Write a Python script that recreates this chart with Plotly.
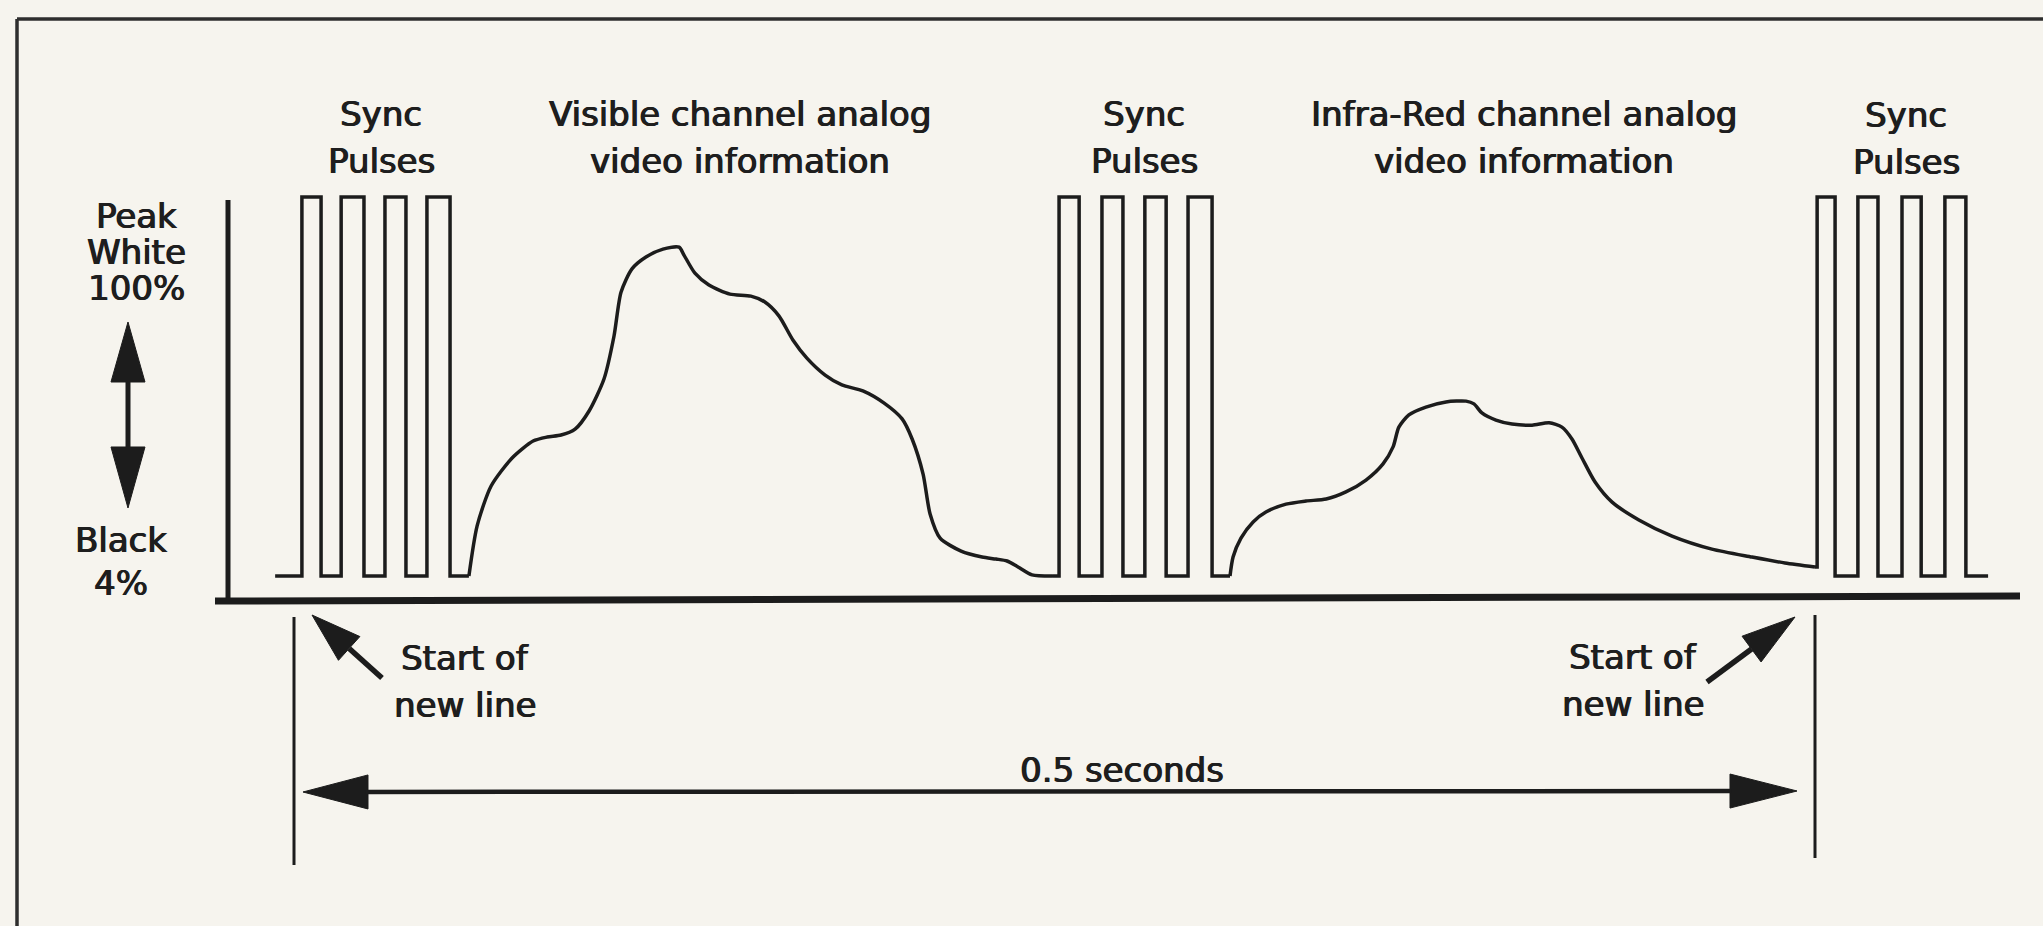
import math
import plotly.graph_objects as go

W, H = 2043, 926

# ---------------- data: time in ms from start of line, level in % ----------------
black_level = 4
white_level = 100

sync1_start_ms = -6.2
sync1_rise_ms = [2.6, 15.5, 29.9, 43.7]
sync1_fall_ms = [8.9, 23.0, 36.8, 51.3]
sync1_end_ms = 57.5

sync2_start_ms = 249.5
sync2_rise_ms = [251.5, 265.6, 279.7, 293.9]
sync2_fall_ms = [258.1, 272.5, 286.7, 301.8]
sync2_end_ms = 307.7

sync3_start_ms = 500.0
sync3_rise_ms = [500.7, 514.1, 528.6, 542.7]
sync3_fall_ms = [506.6, 520.7, 534.9, 549.6]
sync3_end_ms = 556.9

visible_ms = [57.5, 60.2, 64.8, 71.7, 78.6, 83.2, 87.8, 92.4, 97.0, 101.9, 105.2,
              107.5, 111.1, 115.7, 121.3, 126.6, 128.2, 131.8, 136.4, 143.3, 150.2,
              154.8, 159.4, 164.0, 168.6, 174.6, 180.1, 187.0, 194.0, 199.9, 203.2,
              206.8, 209.1, 212.4, 219.3, 226.2, 230.8, 234.4, 238.0, 242.6, 249.5]
visible_level = [4.0, 16.7, 26.8, 33.9, 38.2, 39.2, 39.7, 41.2, 45.8, 53.9, 64.8,
                 75.9, 81.8, 84.8, 86.8, 87.3, 85.3, 80.7, 77.7, 75.4, 74.9,
                 73.4, 69.9, 63.8, 59.2, 54.9, 52.4, 50.9, 47.8, 43.8, 38.7,
                 29.8, 19.7, 13.6, 10.3, 8.8, 8.3, 7.8, 6.3, 4.3, 4.0]

ir_ms = [307.7, 308.7, 311.3, 315.3, 319.5, 326.1, 332.7, 339.3, 345.8, 352.4, 358.0,
         361.3, 363.2, 366.5, 372.1, 378.7, 385.3, 387.9, 390.5, 395.1, 400.4, 407.0,
         412.6, 416.8, 420.1, 423.4, 427.7, 433.3, 442.1, 453.0, 466.1, 479.3, 490.1, 500.0]
ir_level = [4.0, 8.8, 13.6, 17.7, 20.2, 22.2, 23.0, 23.5, 25.3, 28.3, 32.4,
            36.7, 41.7, 44.8, 46.8, 48.1, 48.3, 47.6, 45.3, 43.5, 42.5, 42.2,
            42.8, 41.7, 38.7, 33.9, 27.8, 22.7, 18.2, 14.1, 10.8, 8.8, 7.3, 6.3]

# ---------------- scales (pixel mapping of the drawing) ----------------
T0_PX, PX_PER_MS = 294.0, 3.042
L0_PY, PY_PER_PCT = 591.8, 3.948
x_range = [(0 - T0_PX) / PX_PER_MS, (W - T0_PX) / PX_PER_MS]
y_range = [(L0_PY - H) / PY_PER_PCT, L0_PY / PY_PER_PCT]

INK = "#1c1c1c"
TXT = "#1e1e1e"
BG = "#f6f4ee"
FONT = "DejaVu Sans"
FS = 34
TEXT_SHADOW = "0.7px 0 0 #1e1e1e, -0.5px 0 0 #1e1e1e"


def pulse_path(start, rises, falls, end, start_level=black_level):
    xs, ys = [start], [start_level]
    lvl = start_level
    for r, f in zip(rises, falls):
        xs += [r, r, f, f]
        ys += [lvl, white_level, white_level, black_level]
        lvl = black_level
    xs.append(end)
    ys.append(black_level)
    return xs, ys


fig = go.Figure()
line_style = dict(color=INK, width=3.5)

for s, r, f, e, lv in [
    (sync1_start_ms, sync1_rise_ms, sync1_fall_ms, sync1_end_ms, black_level),
    (sync2_start_ms, sync2_rise_ms, sync2_fall_ms, sync2_end_ms, black_level),
    (sync3_start_ms, sync3_rise_ms, sync3_fall_ms, sync3_end_ms, ir_level[-1]),
]:
    xs, ys = pulse_path(s, r, f, e, lv)
    fig.add_trace(go.Scatter(x=xs, y=ys, mode="lines", line=line_style,
                             hoverinfo="skip", showlegend=False))

fig.add_trace(go.Scatter(x=visible_ms, y=visible_level, mode="lines",
                         line=dict(color=INK, width=3.5, shape="spline", smoothing=0.7),
                         hoverinfo="skip", showlegend=False))
fig.add_trace(go.Scatter(x=ir_ms, y=ir_level, mode="lines",
                         line=dict(color=INK, width=3.5, shape="spline", smoothing=0.7),
                         hoverinfo="skip", showlegend=False))

# ---------------- decorations (pixel positions -> paper) ----------------
def PX(x):
    return x / W


def PY(y):
    return 1 - y / H


shapes = []


def seg(x0, y0, x1, y1, w, color=INK):
    shapes.append(dict(type="line", xref="paper", yref="paper",
                       x0=PX(x0), y0=PY(y0), x1=PX(x1), y1=PY(y1),
                       line=dict(color=color, width=w)))


def head(tip, toward, length, half_w):
    dx, dy = toward[0] - tip[0], toward[1] - tip[1]
    d = math.hypot(dx, dy)
    ux, uy = dx / d, dy / d
    bx, by = tip[0] + ux * length, tip[1] + uy * length
    nx, ny = -uy, ux
    p1 = (bx + nx * half_w, by + ny * half_w)
    p2 = (bx - nx * half_w, by - ny * half_w)
    path = "M {:.5f},{:.5f} L {:.5f},{:.5f} L {:.5f},{:.5f} Z".format(
        PX(tip[0]), PY(tip[1]), PX(p1[0]), PY(p1[1]), PX(p2[0]), PY(p2[1]))
    shapes.append(dict(type="path", xref="paper", yref="paper", path=path,
                       fillcolor=INK, line=dict(color=INK, width=1)))
    return bx, by


# frame
seg(17, 19, W + 5, 19, 3.5, "#2e2e2e")
seg(17, 19, 17, H + 5, 3.5, "#2e2e2e")
# vertical axis & baseline
seg(228, 200, 228, 600, 5)
seg(215, 601, 2020, 596, 7)
# start-of-line markers
seg(294, 617, 294, 865, 3)
seg(1815, 615, 1815, 858, 3)
# 0.5 s double arrow
bl = head((303, 792), (1797, 791), 65, 17)
br = head((1797, 791), (303, 792), 67, 17)
seg(bl[0] - 2, bl[1], br[0] + 2, br[1], 4.5)
# level double arrow
bt = head((128, 322), (128, 508), 60, 17)
bb = head((128, 508), (128, 322), 61, 17)
seg(128, bt[1] - 2, 128, bb[1] + 2, 5)
# diagonal arrows
b1 = head((312, 615), (382, 678), 50, 16)
seg(b1[0], b1[1], 382, 678, 5.5)
b2 = head((1795, 617), (1707, 682), 54, 16)
seg(b2[0], b2[1], 1707, 682, 5.5)

annotations = []


def label(lines, x, ys):
    for text, y in zip(lines, ys):
        annotations.append(dict(text=text, xref="paper", yref="paper", x=PX(x), y=PY(y),
                                xanchor="center", yanchor="middle", showarrow=False,
                                font=dict(family=FONT, size=FS, color=TXT,
                                          shadow=TEXT_SHADOW),
                                align="center"))


label(["Sync", "Pulses"], 381, [114, 161])
label(["Visible channel analog", "video information"], 740, [114, 161])
label(["Sync", "Pulses"], 1144, [114, 161])
label(["Infra-Red channel analog", "video information"], 1524, [114, 161])
label(["Sync", "Pulses"], 1906, [115, 162])
label(["Peak", "White", "100%"], 136, [216, 252, 288])
label(["Black", "4%"], 121, [540, 583])
label(["Start of", "new line"], 465, [658, 705])
label(["Start of", "new line"], 1633, [657, 704])
label(["0.5 seconds"], 1122, [770])

fig.update_layout(
    width=W, height=H, autosize=False,
    margin=dict(l=0, r=0, t=0, b=0, pad=0),
    paper_bgcolor=BG, plot_bgcolor=BG,
    xaxis=dict(range=x_range, visible=False, fixedrange=True),
    yaxis=dict(range=y_range, visible=False, fixedrange=True),
    shapes=shapes, annotations=annotations, showlegend=False,
)

fig.write_html("out.html", post_script="document.body.style.margin='0';",
               config={"displayModeBar": False})
